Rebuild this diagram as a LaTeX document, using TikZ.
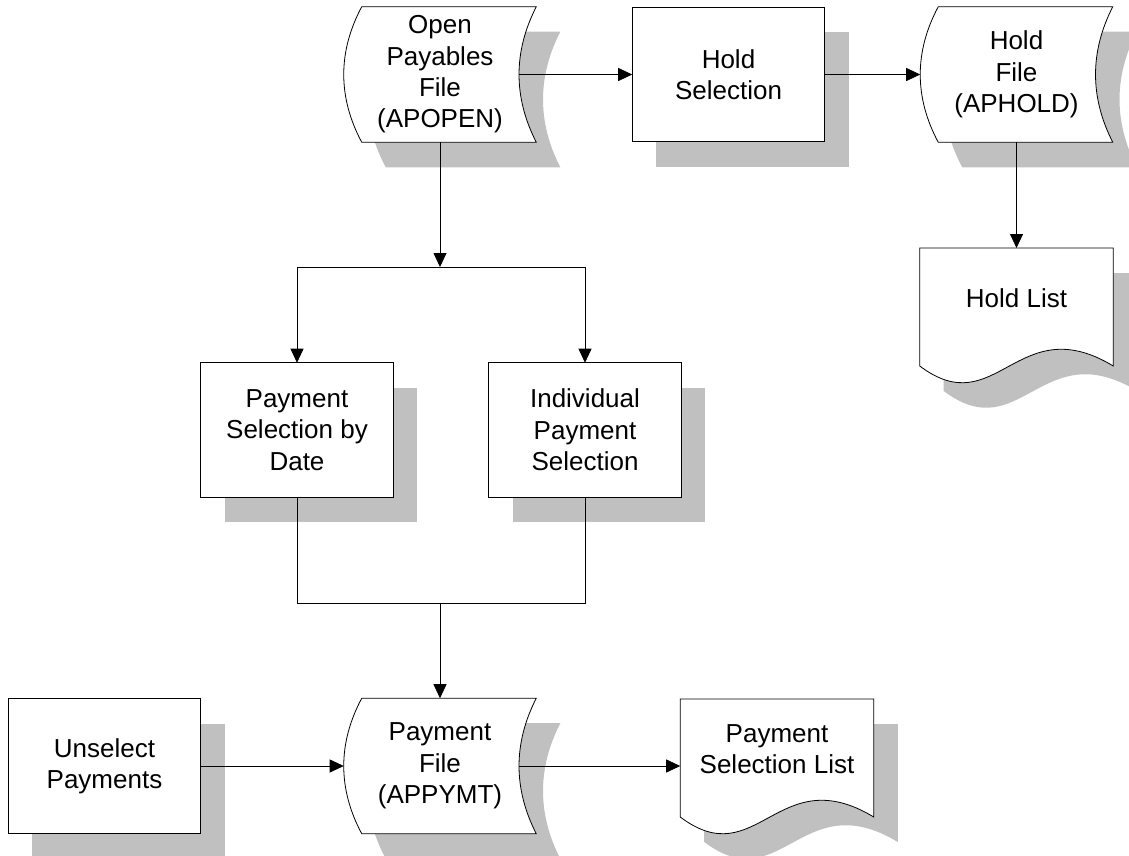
\documentclass[tikz,border=0pt]{standalone}
\usepackage{fontspec}
\setmainfont{Liberation Sans}
\usetikzlibrary{calc,arrows.meta}
\definecolor{shadowgray}{RGB}{192,192,192}
\pgfdeclarelayer{background}
\pgfsetlayers{background,main}

% Outlines built from node anchors (units: 1 = 0.75pt, y grows downwards)
\newcommand\procoutline[1]{(#1.north west) rectangle (#1.south east)}
\newcommand\storedoutline[1]{%
  ($(#1.north west)+(18,0)$) -- (#1.north east)
  .. controls ($(#1.north east)+(-23,45)$) and ($(#1.south east)+(-23,-45)$) .. (#1.south east)
  -- ($(#1.south west)+(18,0)$)
  .. controls ($(#1.south west)+(-6,-45)$) and ($(#1.north west)+(-6,45)$) .. ($(#1.north west)+(18,0)$)
  -- cycle}
\newcommand\docoutline[1]{%
  (#1.north west) -- ($(#1.north west)+(0,118)$)
  .. controls ($(#1.north west)+(77,176)$) and ($(#1.north east)+(-96,60)$) .. ($(#1.north east)+(0,118)$)
  -- (#1.north east) -- cycle}

\tikzset{
  lbl/.style={inner sep=0pt, align=center, font=\fontsize{19.5}{23.5}\selectfont},
  procbox/.style={lbl, minimum width=144pt, minimum height=100.5pt},
  storebox/.style={lbl, minimum width=144pt, minimum height=101.25pt},
  docbox/.style={lbl, minimum width=144.75pt, minimum height=75pt, anchor=north},
  flow/.style={-{Triangle[length=10.5pt,width=9.75pt]}, line width=0.6pt},
  wire/.style={line width=0.6pt},
  outline/.style={fill=white, draw=black, line width=0.6pt},
  shadowfill/.style={fill=shadowgray, transform canvas={shift={(24,25)}}}
}

\begin{document}
\begin{tikzpicture}[x=0.75pt, y=-0.75pt]
  \useasboundingbox (0,0) rectangle (1129,856);
  \clip (0,0) rectangle (1129,856);

  % shapes carrying the text
  \node[storebox] (opf)   at (440,74.5)   {Open\\Payables\\File\\(APOPEN)};
  \node[procbox]  (hsel)  at (728.5,74.5) {Hold\\Selection};
  \node[storebox] (hfile) at (1016.5,74.5){Hold\\File\\(APHOLD)};
  \node[docbox]   (hlist) at (1016.5,248) {Hold List};
  \node[procbox]  (psd)   at (297,430)    {Payment\\Selection by\\Date};
  \node[procbox]  (ips)   at (585,430)    {Individual\\Payment\\Selection};
  \node[storebox] (pf)    at (440,766)    {Payment\\File\\(APPYMT)};
  \node[procbox]  (unsel) at (104.5,766)  {Unselect\\Payments};
  \node[docbox]   (psl)   at (777,699)    {Payment\\Selection List};

  % shadows and white outlines behind the text
  \begin{pgfonlayer}{background}
    \fill[shadowfill] \storedoutline{opf};
    \fill[shadowfill] \procoutline{hsel};
    \fill[shadowfill] \storedoutline{hfile};
    \fill[shadowfill] \docoutline{hlist};
    \fill[shadowfill] \procoutline{psd};
    \fill[shadowfill] \procoutline{ips};
    \fill[shadowfill] \storedoutline{pf};
    \fill[shadowfill] \procoutline{unsel};
    \fill[shadowfill] \docoutline{psl};

    \path[outline] \storedoutline{opf};
    \path[outline] \procoutline{hsel};
    \path[outline] \storedoutline{hfile};
    \path[outline] \docoutline{hlist};
    \path[outline] \procoutline{psd};
    \path[outline] \procoutline{ips};
    \path[outline] \storedoutline{pf};
    \path[outline] \procoutline{unsel};
    \path[outline] \docoutline{psl};
  \end{pgfonlayer}

  % branch points
  \coordinate (split) at (440,267);
  \coordinate (join)  at (440,603);

  % connectors
  \draw[flow] ($(opf.east)+(-17,0)$) -- (hsel.west);
  \draw[flow] (hsel.east) -- (hfile.west);
  \draw[flow] (hfile.south) -- (hlist.north);
  \draw[flow] (opf.south) -- (split);
  \draw[wire] (psd.north |- split) -- (ips.north |- split);
  \draw[flow] (psd.north |- split) -- (psd.north);
  \draw[flow] (ips.north |- split) -- (ips.north);
  \draw[wire] (psd.south) -- (psd.south |- join) -- (ips.south |- join) -- (ips.south);
  \draw[flow] (join) -- (pf.north);
  \draw[flow] (unsel.east) -- (pf.west);
  \draw[flow] ($(pf.east)+(-17,0)$) -- (psl.west |- pf.east);
\end{tikzpicture}
\end{document}
